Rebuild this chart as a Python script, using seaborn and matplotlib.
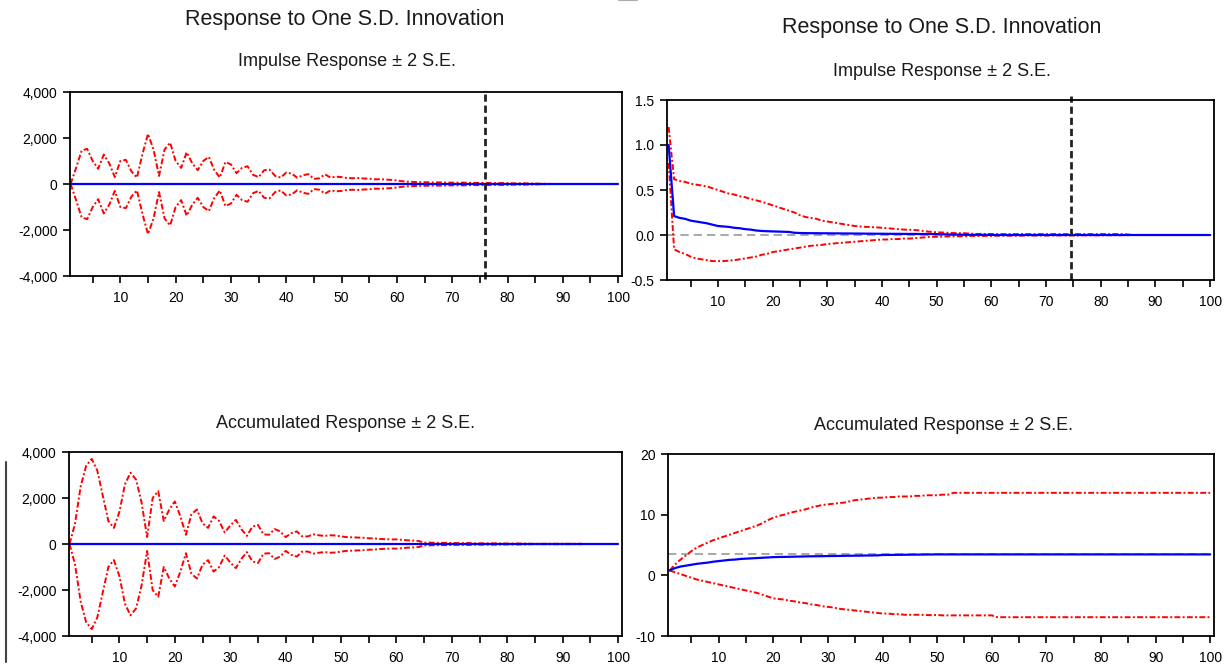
import numpy as np
import pandas as pd
from matplotlib import pyplot as plt
from matplotlib.ticker import MultipleLocator, StrMethodFormatter
import seaborn as sns

periods = list(range(1, 101))

# top left: impulse response (zero) and 2 S.E. band half-width
tl_resp = [0.0] * 100
tl_se2 = [0, 700, 1450, 1530, 1000, 660, 1280, 900, 300, 1000,
          1050, 550, 280, 1300, 2180, 1500, 350, 1500, 1800, 1000,
          700, 1380, 900, 600, 1000, 1180, 600, 280, 960, 850,
          470, 700, 770, 400, 300, 600, 620, 350, 280, 500,
          450, 270, 380, 430, 220, 250, 420, 280, 320, 300,
          260, 250, 260, 240, 230, 200, 210, 190, 180, 150,
          120, 100, 90, 80, 80, 70, 70, 70, 60, 60,
          60, 60, 50, 50, 50, 50, 40, 40, 40, 40,
          30, 30, 30, 20, 20, 10, 10] + [0] * 13

# bottom left: accumulated response (zero) and 2 S.E. band half-width
bl_resp = [0.0] * 100
bl_se2 = [0, 900, 2500, 3400, 3700, 3200, 2100, 1000, 700, 1400,
          2600, 3100, 2800, 1800, 300, 2000, 2300, 1000, 1500, 1850,
          1200, 400, 1300, 1500, 900, 700, 1200, 1000, 500, 800,
          1050, 650, 350, 750, 830, 420, 400, 650, 550, 300,
          470, 550, 330, 330, 420, 380, 350, 380, 370, 330,
          300, 290, 280, 270, 250, 240, 220, 210, 200, 200,
          180, 160, 150, 130, 60, 60, 50, 50, 50, 40,
          40, 40, 40, 30, 30, 30, 30, 30, 20, 20,
          20, 20, 20, 10, 10, 10, 10, 10, 10, 10,
          10, 10, 10] + [0] * 7

# top right: impulse response with upper / lower bands
tr_resp = [1.0, 0.21, 0.19, 0.18, 0.16, 0.15, 0.14, 0.13, 0.115, 0.10,
           0.095, 0.09, 0.08, 0.075, 0.065, 0.06, 0.05, 0.045, 0.042, 0.04,
           0.038, 0.036, 0.034, 0.025, 0.022, 0.021, 0.02, 0.02, 0.019, 0.019,
           0.018, 0.018, 0.017, 0.017, 0.016, 0.016, 0.015, 0.015, 0.014, 0.014,
           0.013, 0.013, 0.013, 0.012, 0.012, 0.012, 0.011, 0.011, 0.011, 0.010,
           0.008, 0.006, 0.005, 0.004, 0.003, 0.002, 0.002, 0.002, 0.001, 0.001] + [0.0] * 40
tr_upper = [1.2, 0.62, 0.60, 0.59, 0.57, 0.56, 0.55, 0.54, 0.52, 0.50,
            0.48, 0.46, 0.45, 0.43, 0.42, 0.40, 0.385, 0.37, 0.35, 0.33,
            0.31, 0.29, 0.27, 0.25, 0.22, 0.20, 0.19, 0.18, 0.16, 0.15,
            0.14, 0.13, 0.12, 0.11, 0.10, 0.095, 0.09, 0.088, 0.085, 0.08,
            0.075, 0.07, 0.065, 0.06, 0.058, 0.055, 0.05, 0.04, 0.035, 0.03,
            0.028, 0.025, 0.022, 0.02, 0.02, 0.015, 0.012, 0.012, 0.011, 0.011,
            0.01, 0.01, 0.01, 0.01, 0.01, 0.01, 0.01, 0.01, 0.01, 0.01,
            0.01, 0.01, 0.01, 0.01, 0.01, 0.01, 0.01, 0.01, 0.01, 0.01,
            0.01, 0.01, 0.01, 0.01, 0.005] + [0.0] * 15
tr_lower = [0.8, -0.16, -0.19, -0.21, -0.24, -0.26, -0.27, -0.28, -0.29, -0.29,
            -0.29, -0.285, -0.28, -0.27, -0.26, -0.25, -0.24, -0.22, -0.21, -0.19,
            -0.18, -0.17, -0.16, -0.15, -0.14, -0.13, -0.12, -0.115, -0.11, -0.10,
            -0.095, -0.09, -0.085, -0.08, -0.075, -0.07, -0.065, -0.06, -0.055, -0.05,
            -0.05, -0.045, -0.045, -0.04, -0.04, -0.035, -0.03, -0.025, -0.02, -0.02,
            -0.018, -0.016, -0.015, -0.015, -0.015, -0.01, -0.01, -0.01, -0.01, -0.01,
            -0.008, -0.008, -0.008, -0.008, -0.008, -0.006, -0.006, -0.006, -0.006, -0.006,
            -0.005, -0.005, -0.005, -0.005, -0.005, -0.004, -0.004, -0.004, -0.004, -0.004,
            -0.003, -0.003, -0.003, -0.002, -0.002] + [0.0] * 15

# bottom right: accumulated response with upper / lower bands
br_resp = [0.8, 1.2, 1.45, 1.6, 1.75, 1.9, 2.0, 2.1, 2.25, 2.35,
           2.45, 2.55, 2.6, 2.7, 2.75, 2.8, 2.85, 2.9, 2.95, 3.0,
           3.02, 3.04, 3.06, 3.08, 3.1, 3.12, 3.14, 3.15, 3.16, 3.18,
           3.19, 3.2, 3.22, 3.23, 3.24, 3.25, 3.27, 3.28, 3.29, 3.35,
           3.36, 3.37, 3.38, 3.39, 3.4, 3.41, 3.42, 3.43, 3.44] + [3.45] * 51
br_upper = [0.8, 1.8, 2.6, 3.3, 4.0, 4.6, 5.0, 5.4, 5.8, 6.1,
            6.4, 6.7, 7.0, 7.3, 7.6, 7.9, 8.2, 8.6, 9.1, 9.5,
            9.8, 10.0, 10.3, 10.5, 10.7, 10.9, 11.2, 11.4, 11.6, 11.7,
            11.8, 11.9, 12.0, 12.2, 12.4, 12.5, 12.6, 12.7, 12.8, 12.8,
            12.9, 12.9, 13.0, 13.0, 13.0, 13.1, 13.1, 13.2, 13.2, 13.2,
            13.3, 13.3] + [13.6] * 48
br_lower = [0.8, 0.5, 0.2, -0.1, -0.4, -0.7, -0.9, -1.1, -1.3, -1.5,
            -1.7, -1.9, -2.1, -2.3, -2.5, -2.7, -2.9, -3.2, -3.5, -3.8,
            -3.9, -4.0, -4.2, -4.3, -4.5, -4.6, -4.8, -4.9, -5.1, -5.2,
            -5.3, -5.5, -5.6, -5.7, -5.8, -5.9, -6.0, -6.1, -6.2, -6.3,
            -6.3, -6.4, -6.4, -6.5, -6.5, -6.5, -6.5, -6.55, -6.55, -6.55,
            -6.6, -6.6, -6.6, -6.6, -6.6, -6.6, -6.6, -6.6, -6.6, -6.6] + [-6.9] * 40
br_longrun = 3.45

title_main = 'Response to One S.D. Innovation'
title_irf = 'Impulse Response \u00b1 2 S.E.'
title_acc = 'Accumulated Response \u00b1 2 S.E.'

sns.set_style('white')
plt.rcParams['font.family'] = ['Liberation Sans', 'DejaVu Sans']
plt.rcParams['axes.unicode_minus'] = False

RED = '#ff0000'
BLUE = '#0000ff'
band_style = (0, (3, 1.2, 1, 1.2))

fig = plt.figure(figsize=(12.29, 6.66), dpi=100)
W, H = 1229, 666


def make_axes(left, top, right, bottom):
    return fig.add_axes([left / W, 1 - bottom / H, (right - left) / W, (bottom - top) / H])


def style_axes(ax, xlo, ylim, ystep, fmt):
    ax.set_xlim(xlo, 100.7)
    ax.set_ylim(*ylim)
    ax.xaxis.set_major_locator(MultipleLocator(10))
    ax.xaxis.set_minor_locator(MultipleLocator(5))
    ax.yaxis.set_major_locator(MultipleLocator(ystep))
    ax.yaxis.set_major_formatter(StrMethodFormatter(fmt))
    ax.tick_params(axis='both', which='both', direction='out', length=5, width=1.2,
                   colors='black', labelsize=10, bottom=True, left=True, pad=4)
    ax.tick_params(axis='x', which='major', pad=6)
    for s in ax.spines.values():
        s.set_color('black')
        s.set_linewidth(1.3)
    ax.set_xlabel('')
    ax.set_ylabel('')


def draw(ax, resp, upper, lower):
    df = pd.DataFrame({'period': periods, 'resp': resp, 'upper': upper, 'lower': lower})
    sns.lineplot(data=df, x='period', y='upper', ax=ax, color=RED, lw=1.4, linestyle=band_style)
    sns.lineplot(data=df, x='period', y='lower', ax=ax, color=RED, lw=1.4, linestyle=band_style)
    sns.lineplot(data=df, x='period', y='resp', ax=ax, color=BLUE, lw=1.6)


ax_tl = make_axes(70, 92, 622, 276)
ax_tr = make_axes(667, 100, 1214, 280)
ax_bl = make_axes(69, 452, 622, 636)
ax_br = make_axes(668, 454, 1214, 636)

tl_up = [r + s for r, s in zip(tl_resp, tl_se2)]
tl_lo = [r - s for r, s in zip(tl_resp, tl_se2)]
bl_up = [r + s for r, s in zip(bl_resp, bl_se2)]
bl_lo = [r - s for r, s in zip(bl_resp, bl_se2)]

ax_tr.axhline(0, color='#999999', lw=1.2, linestyle=(0, (5, 3)))
ax_br.axhline(br_longrun, color='#999999', lw=1.2, linestyle=(0, (5, 3)))

draw(ax_tl, tl_resp, tl_up, tl_lo)
draw(ax_tr, tr_resp, tr_upper, tr_lower)
draw(ax_bl, bl_resp, bl_up, bl_lo)
draw(ax_br, br_resp, br_upper, br_lower)

style_axes(ax_tl, 0.9, (-4000, 4000), 2000, '{x:,.0f}')
style_axes(ax_bl, 0.9, (-4000, 4000), 2000, '{x:,.0f}')
style_axes(ax_tr, 0.7, (-0.5, 1.5), 0.5, '{x:.1f}')
style_axes(ax_br, 0.7, (-10, 20), 10, '{x:.0f}')

# hand-drawn vertical dashed markers
ax_tl.axvline(76, ymin=-0.015, ymax=1.01, color='#222222', lw=2, linestyle=(0, (2.6, 1.4)), clip_on=False)
ax_tr.axvline(74.5, ymin=0.0, ymax=1.02, color='#222222', lw=2, linestyle=(0, (2.6, 1.4)), clip_on=False)

fig.text(345 / W, 1 - 19 / H, title_main, ha='center', va='center', fontsize=15.5, color='#1a1a1a')
fig.text(942 / W, 1 - 28 / H, title_main, ha='center', va='center', fontsize=15.5, color='#1a1a1a')
fig.text(347 / W, 1 - 61 / H, title_irf, ha='center', va='center', fontsize=13, color='#1a1a1a')
fig.text(942 / W, 1 - 71 / H, title_irf, ha='center', va='center', fontsize=13, color='#1a1a1a')
fig.text(345 / W, 1 - 423 / H, title_acc, ha='center', va='center', fontsize=13, color='#1a1a1a')
fig.text(944 / W, 1 - 425 / H, title_acc, ha='center', va='center', fontsize=13, color='#1a1a1a')

# stray marks from the screenshot edges
fig.add_artist(plt.Line2D([6 / W, 6 / W], [1 - 462 / H, 1 - 662 / H], color='#444444', lw=1.5))
fig.add_artist(plt.Line2D([618 / W, 637 / W], [1 - 0.3 / H, 1 - 0.3 / H], color='#aaaaaa', lw=0.8))

fig.savefig('out.png', dpi=100)
